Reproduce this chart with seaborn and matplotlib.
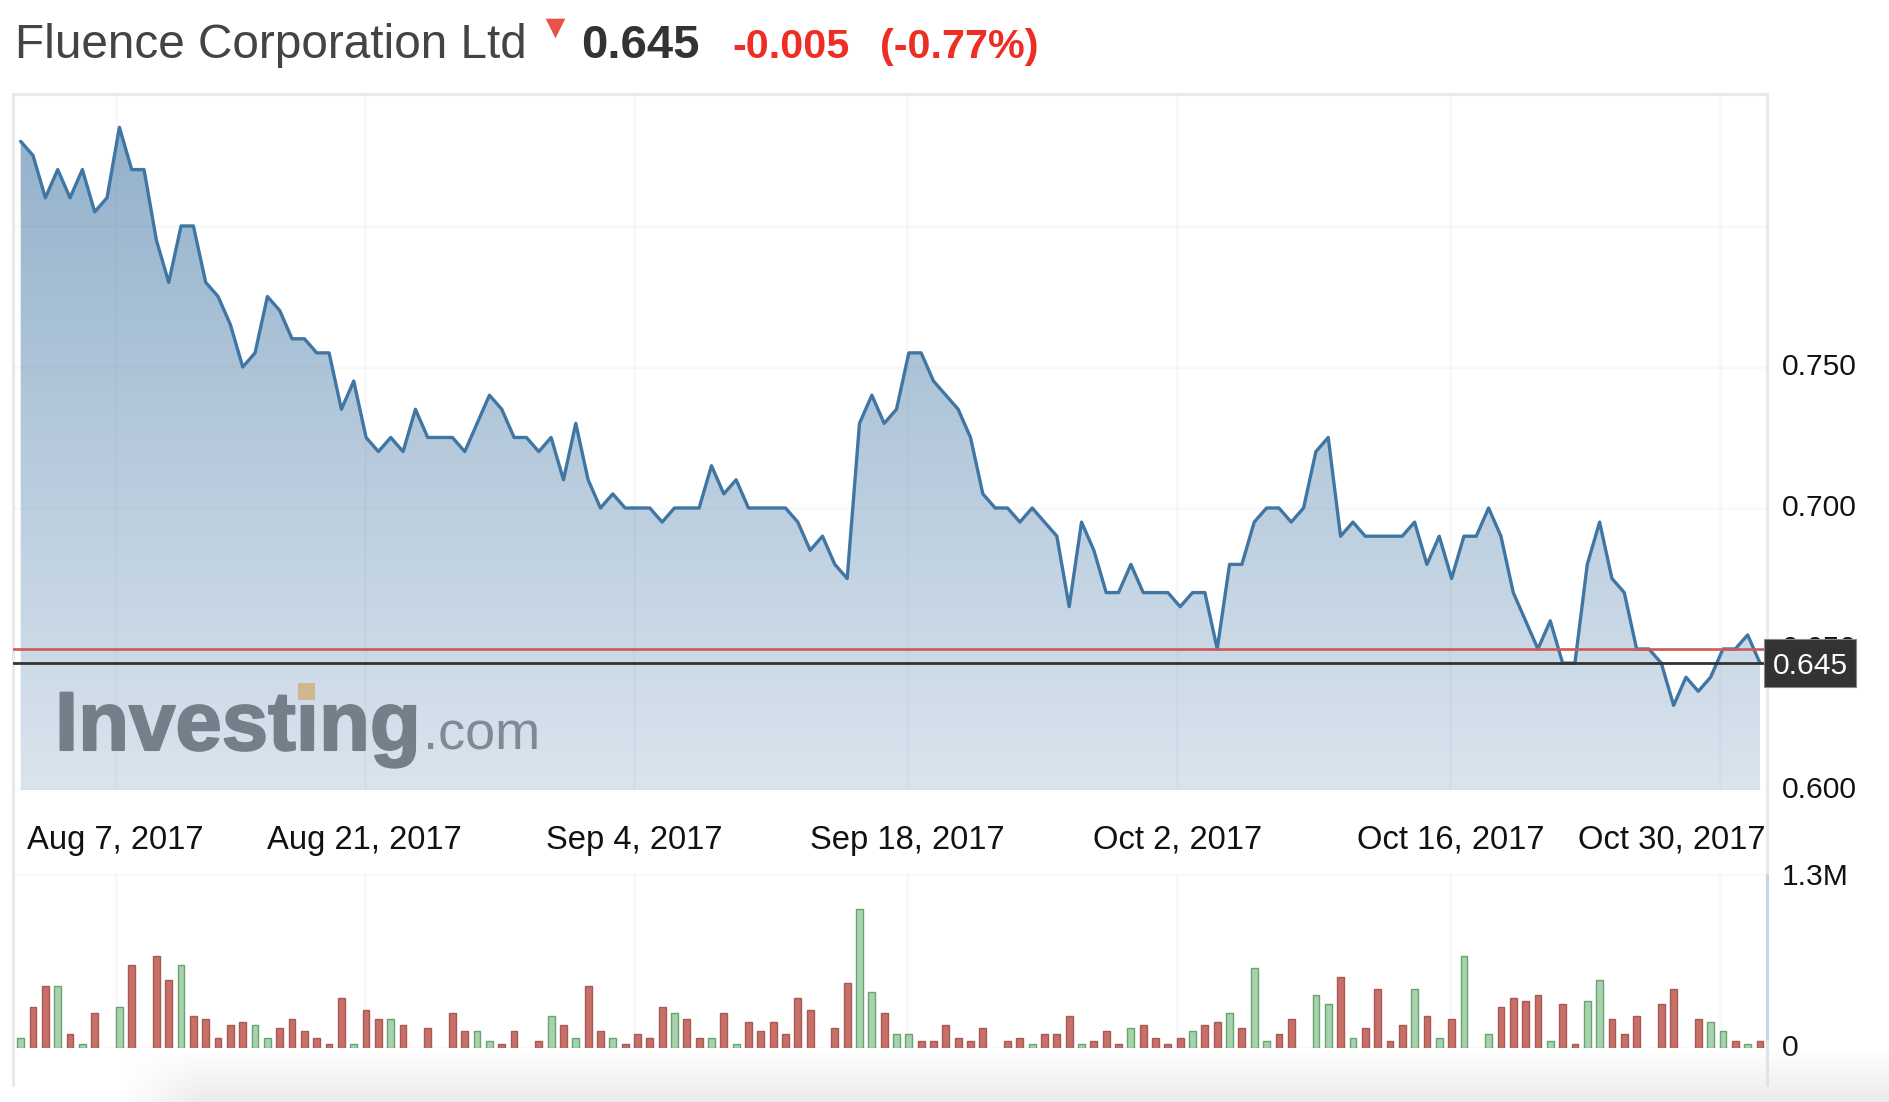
import numpy as np
import pandas as pd
import matplotlib
matplotlib.use('Agg')
import matplotlib.pyplot as plt
import seaborn as sns
import matplotlib.patheffects as pe
from matplotlib.patches import Rectangle
from matplotlib.transforms import ScaledTranslation

# closing price per trading day
prices = [
    .83, .825, .81, .82, .81, .82, .805, .81, .835, .82, .82, .795, .78, .80, .80, .78, .775, .765, .75, .755,
    .775, .77, .76, .76, .755, .755, .735, .745, .725, .72, .725, .72, .735, .725, .725, .725, .72, .73, .74, .735,
    .725, .725, .72, .725, .71, .73, .71, .70, .705, .70, .70, .70, .695, .70, .70, .70, .715, .705, .71, .70,
    .70, .70, .70, .695, .685, .69, .68, .675, .73, .74, .73, .735, .755, .755, .745, .74, .735, .725, .705, .70,
    .70, .695, .70, .695, .69, .665, .695, .685, .67, .67, .68, .67, .67, .67, .665, .67, .67, .65, .68, .68,
    .695, .70, .70, .695, .70, .72, .725, .69, .695, .69, .69, .69, .69, .695, .68, .69, .675, .69, .69, .70,
    .69, .67, .66, .65, .66, .645, .645, .68, .695, .675, .67, .65, .65, .645, .63, .64, .635, .64, .65, .65,
    .655, .645,
]

# volume in thousands, 0 means no bar that day
volumes = [
    77, 304, 461, 461, 102, 32, 259, 0, 304, 618, 0, 685, 505, 618, 237, 214, 77, 169, 192, 169,
    77, 147, 214, 125, 77, 32, 371, 32, 281, 214, 214, 169, 0, 147, 0, 259, 125, 125, 55, 32,
    125, 0, 55, 237, 169, 77, 461, 125, 77, 32, 102, 77, 304, 259, 214, 77, 77, 259, 32, 192,
    125, 192, 102, 371, 281, 0, 147, 483, 1041, 416, 259, 102, 102, 55, 55, 169, 77, 55, 147, 0,
    55, 77, 32, 102, 102, 237, 32, 55, 125, 32, 147, 169, 77, 32, 77, 125, 169, 192, 259, 147,
    595, 55, 102, 214, 0, 393, 326, 528, 77, 147, 438, 55, 169, 438, 237, 77, 214, 685, 0, 102,
    304, 371, 349, 393, 55, 326, 32, 349, 505, 214, 102, 237, 0, 326, 438, 0, 214, 192, 125, 55,
    32, 55,
]

# r = down day, g = up day (same order as volumes, '.' where there is no bar)
directions = (
    "grrgrgr.gr.rrgrrrrrg" "grrrrrrgrrgr.r.rrggr"
    "r.rgrgrrgrrrrgrrgrgr" "rrrrr.rrggrggrrrrrr."
    "rrgrrrgrrrgrrrrgrrgr" "ggrr.ggrgrrrrgrgrg.g"
    "rrrrgrrggrrr.rr.rggr" "gr"
)

price_ticks = [0.6, 0.65, 0.7, 0.75, 0.8]
price_labels = ['0.600', '0.650', '0.700', '0.750', '']
date_ticks = [7.7, 27.9, 49.75, 71.85, 93.75, 115.9, 137.8]
date_labels = ['Aug 7, 2017', 'Aug 21, 2017', 'Sep 4, 2017', 'Sep 18, 2017', 'Oct 2, 2017', 'Oct 16, 2017', 'Oct 30, 2017']
last_price = 0.645
prev_close = 0.65

W, H = 1890, 1102
BORDER = '#e6ebf0'
GRID = '#8090a0'
TEXT = '#111111'


# axes rectangle from pixel edges of the picture
def px_axes(fig, left, top, right, bottom, **kw):
    return fig.add_axes([left / W, 1 - bottom / H, (right - left) / W, (bottom - top) / H], **kw)


sns.set_theme(style='white')
plt.rcParams['font.family'] = ['Liberation Sans', 'DejaVu Sans']

fig = plt.figure(figsize=(W / 100, H / 100), dpi=100, facecolor='white')
ax = px_axes(fig, 13, 94, 1767, 790, facecolor='none')
vol_ax = px_axes(fig, 13, 874, 1767, 1048, facecolor='none')

days = np.arange(len(prices))
x_lim = (-0.624, 141.57)
y_lim = (0.6, 0.8468)

# area under the price, gradient clipped to the filled shape
area = ax.fill_between(days, prices, y_lim[0], color='none', lw=0)
grad = np.linspace(0, 1, 256).reshape(-1, 1)
top_c = np.array([0x90, 0xaf, 0xc9]) / 255
bot_c = np.array([0xda, 0xe4, 0xee]) / 255
grad_img = (top_c + (bot_c - top_c) * grad)[:, np.newaxis, :].reshape(256, 1, 3)
img = ax.imshow(grad_img, extent=(x_lim[0], x_lim[1], y_lim[0], y_lim[1]), aspect='auto', origin='upper', zorder=1)
img.set_clip_path(area.get_paths()[0], transform=ax.transData)

sns.lineplot(x=days, y=prices, color='#3f76a4', lw=2.4, estimator=None, ax=ax, zorder=4)
ax.axhline(prev_close, color='#cd5a58', lw=1.9, zorder=5)
ax.axhline(last_price, color='#333333', lw=2.0, zorder=6)

ax.set_xlim(*x_lim)
ax.set_ylim(*y_lim)
ax.set_xlabel('')
ax.set_ylabel('')
ax.set_yticks(price_ticks, price_labels)
ax.yaxis.tick_right()
ax.set_xticks(date_ticks, date_labels)
ax.tick_params(axis='y', length=0, pad=10.5, labelsize=21.6, labelcolor=TEXT)
ax.tick_params(axis='x', length=0, pad=25, labelsize=23.6, labelcolor=TEXT)
ax.grid(True, color=GRID, alpha=0.06, lw=2.0, zorder=3)
ax.set_axisbelow(False)
for lbl in ax.get_yticklabels():
    lbl.set_va('center')

# last date label is pushed left so it stays inside the frame
oct30 = ax.get_xticklabels()[-1]
oct30.set_transform(oct30.get_transform() + ScaledTranslation(-0.49, 0, fig.dpi_scale_trans))

for side in ('top', 'left', 'right'):
    ax.spines[side].set_color(BORDER)
    ax.spines[side].set_linewidth(2.2)
ax.spines['bottom'].set_visible(False)

# volume panel
vol_df = pd.DataFrame({'day': days, 'vol': volumes, 'dir': list(directions)})
vol_df = vol_df[vol_df['vol'] > 0]
sns.barplot(data=vol_df, x='day', y='vol', hue='dir', hue_order=['r', 'g'], palette={'r': '#c86f68', 'g': '#a9d1ae'},
            native_scale=True, dodge=False, width=0.55, saturation=1, legend=False, linewidth=1.0, ax=vol_ax, zorder=4)
for container, edge in zip(vol_ax.containers, ['#a85a55', '#65a56e']):
    for bar in container:
        bar.set_edgecolor(edge)

vol_ax.set_xlim(*x_lim)
vol_ax.set_ylim(0, 1300)
vol_ax.set_xlabel('')
vol_ax.set_ylabel('')
vol_ax.set_xticks(date_ticks, [''] * len(date_ticks))
vol_ax.set_yticks([0, 1300], ['0', '1.3M'])
vol_ax.yaxis.tick_right()
vol_ax.tick_params(axis='both', length=0)
vol_ax.tick_params(axis='y', pad=10.5, labelsize=21.6, labelcolor=TEXT)
vol_ax.grid(True, color=GRID, alpha=0.06, lw=2.0)
vol_ax.set_axisbelow(True)
for side in vol_ax.spines:
    vol_ax.spines[side].set_visible(False)

# the 0 label sits a little above its gridline
zero = vol_ax.get_yticklabels()[0]
zero.set_transform(zero.get_transform() + ScaledTranslation(0, 0.035, fig.dpi_scale_trans))

# overlay in picture pixels: title, watermark, price box, frame lines, bottom shadow
over = fig.add_axes([0, 0, 1, 1], facecolor='none')
over.set_xlim(0, W)
over.set_ylim(H, 0)
over.axis('off')

xs, ys = np.meshgrid(np.arange(W), np.arange(H))
shade = np.clip((ys - 1048) / 54, 0, 1) * np.clip((xs - 120) / 80, 0, 1)
rgba = np.zeros((H, W, 4))
rgba[..., :3] = 0.925
rgba[..., 3] = shade
over.imshow(rgba, extent=(0, W, H, 0), aspect='auto', zorder=0)

over.plot([13, 13], [790, 1085], color=BORDER, lw=2.2, zorder=1)
over.plot([1767, 1767], [790, 875], color=BORDER, lw=2.2, zorder=1)
over.plot([1767, 1767], [875, 1040], color='#c5d3e2', lw=2.2, zorder=1)
over.plot([1767, 1767], [1040, 1085], color='#dde3ea', lw=2.2, zorder=1)

over.text(15, 58, 'Fluence Corporation Ltd', fontsize=34.4, color='#444444', va='baseline')
over.scatter([555], [28], marker='v', s=200, color='#e5534b', lw=0, zorder=3)
over.text(581, 58, '0.645', fontsize=34, fontweight='bold', color='#333333', va='baseline')
over.text(732, 58, '-0.005', fontsize=29.7, fontweight='bold', color='#ee2d24', va='baseline')
over.text(880, 58, '(-0.77%)', fontsize=29.7, fontweight='bold', color='#ee2d24', va='baseline')

logo = over.text(55, 750, 'Investing', fontsize=60, fontweight='bold', color='#747f8a', va='baseline', zorder=2)
logo.set_path_effects([pe.withStroke(linewidth=1.5, foreground='#747f8a')])
over.text(423, 750, '.com', fontsize=39, color='#7f8a94', va='baseline', zorder=2)
over.add_patch(Rectangle((298, 683), 17, 17, facecolor='#d0b690', lw=0, zorder=2))

over.add_patch(Rectangle((1764, 639), 92, 48, facecolor='#333333', edgecolor='#888888', lw=0.8, zorder=6))
over.text(1810, 665.5, '0.645', fontsize=21.6, color='white', ha='center', va='center', zorder=7)

fig.savefig('out.png', dpi=100)
plt.close(fig)
